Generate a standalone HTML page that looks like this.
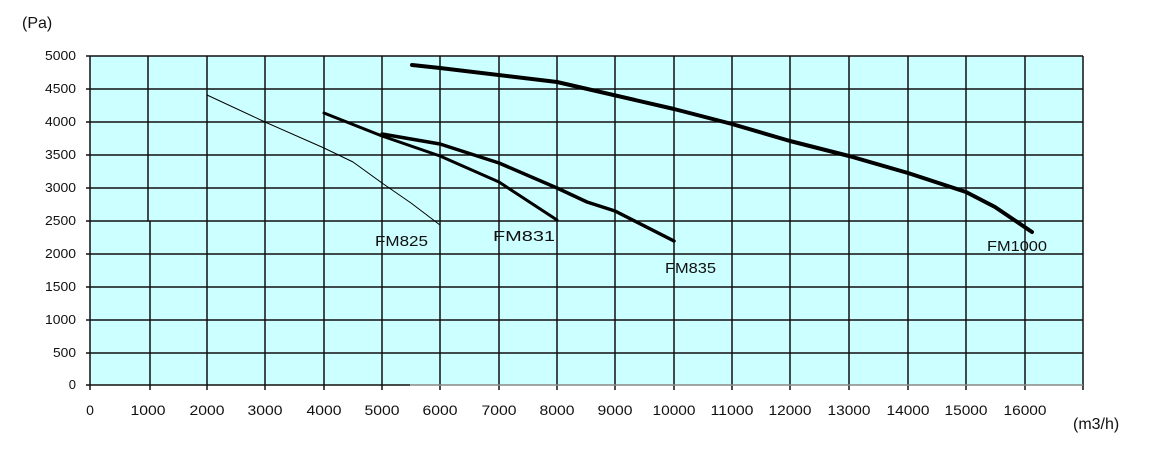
<!DOCTYPE html>
<html><head><style>
html,body{margin:0;padding:0;background:#fff;}
text{font-family:"Liberation Sans",sans-serif;fill:#111;}
</style></head><body>
<svg width="1155" height="452" viewBox="0 0 1155 452" xmlns="http://www.w3.org/2000/svg">
<rect x="90" y="56" width="993" height="329" fill="#ccffff"/>
<g stroke="#111" stroke-width="1.5" fill="none">
<path d="M90 56H1083M90 89H1083M90 122H1083M90 155H1083M90 188H1083M90 221H1083M90 254H1083M90 287H1083M90 320H1083M90 353H1083"/>
<path d="M148 56V221M150 221V390M207 56V390M265 56V390M324 56V390M382 56V390M440 56V390M499 56V390M557 56V390M615 56V390M674 56V390M732 56V390M790 56V390M849 56V390M908 56V390M966 56V390M1025 56V390M1083 56V390"/>
<path d="M90 56V390M86 56H90M86 89H90M86 122H90M86 155H90M86 188H90M86 221H90M86 254H90M86 287H90M86 320H90M86 353H90M86 385H90"/>
<path d="M90 385H410"/>
</g>
<path d="M410 385H1083" stroke="#888" stroke-width="1.5"/>
<g font-size="13" text-anchor="end">
<text x="76" y="60" textLength="31" lengthAdjust="spacingAndGlyphs">5000</text><text x="76" y="93" textLength="31" lengthAdjust="spacingAndGlyphs">4500</text><text x="76" y="126" textLength="31" lengthAdjust="spacingAndGlyphs">4000</text><text x="76" y="159" textLength="31" lengthAdjust="spacingAndGlyphs">3500</text><text x="76" y="192" textLength="31" lengthAdjust="spacingAndGlyphs">3000</text><text x="76" y="225" textLength="31" lengthAdjust="spacingAndGlyphs">2500</text><text x="76" y="258" textLength="31" lengthAdjust="spacingAndGlyphs">2000</text><text x="76" y="291" textLength="31" lengthAdjust="spacingAndGlyphs">1500</text><text x="76" y="324" textLength="31" lengthAdjust="spacingAndGlyphs">1000</text><text x="76" y="357" textLength="23" lengthAdjust="spacingAndGlyphs">500</text><text x="76" y="389">0</text>
</g>
<g font-size="14" text-anchor="middle">
<text x="90" y="415">0</text><text x="148" y="415" textLength="35" lengthAdjust="spacingAndGlyphs">1000</text><text x="207" y="415" textLength="35" lengthAdjust="spacingAndGlyphs">2000</text><text x="265" y="415" textLength="35" lengthAdjust="spacingAndGlyphs">3000</text><text x="324" y="415" textLength="35" lengthAdjust="spacingAndGlyphs">4000</text><text x="382" y="415" textLength="35" lengthAdjust="spacingAndGlyphs">5000</text><text x="440" y="415" textLength="35" lengthAdjust="spacingAndGlyphs">6000</text><text x="499" y="415" textLength="35" lengthAdjust="spacingAndGlyphs">7000</text><text x="557" y="415" textLength="35" lengthAdjust="spacingAndGlyphs">8000</text><text x="615" y="415" textLength="35" lengthAdjust="spacingAndGlyphs">9000</text><text x="674" y="415" textLength="43" lengthAdjust="spacingAndGlyphs">10000</text><text x="732" y="415" textLength="43" lengthAdjust="spacingAndGlyphs">11000</text><text x="790" y="415" textLength="43" lengthAdjust="spacingAndGlyphs">12000</text><text x="849" y="415" textLength="43" lengthAdjust="spacingAndGlyphs">13000</text><text x="908" y="415" textLength="43" lengthAdjust="spacingAndGlyphs">14000</text><text x="966" y="415" textLength="43" lengthAdjust="spacingAndGlyphs">15000</text><text x="1025" y="415" textLength="43" lengthAdjust="spacingAndGlyphs">16000</text>
</g>
<text x="22" y="28" font-size="16">(Pa)</text>
<text x="1073" y="429" font-size="16">(m3/h)</text>
<g fill="none" stroke="#000" stroke-linejoin="round" stroke-linecap="round">
<path d="M207 95L265 122L324 148L353 162L382 183L411 203L440 225" stroke-width="1"/>
<path d="M324 113L382 136L440 156L499 182L557 220" stroke-width="3"/>
<path d="M382 134L440 144L499 163L557 188L587 202L615 211L674 241" stroke-width="3.5"/>
<path d="M412 65L440 68L557 82L674 109L732 124L790 141L849 156L908 173L966 192L995 207L1032 232" stroke-width="4"/>
</g>
<g font-size="15" fill="#222">
<text x="375" y="246" textLength="53" lengthAdjust="spacingAndGlyphs">FM825</text>
<text x="493" y="241" textLength="62" lengthAdjust="spacingAndGlyphs">FM831</text>
<text x="665" y="273" textLength="51" lengthAdjust="spacingAndGlyphs">FM835</text>
<text x="987" y="251" textLength="60" lengthAdjust="spacingAndGlyphs">FM1000</text>
</g>
</svg>
</body></html>
